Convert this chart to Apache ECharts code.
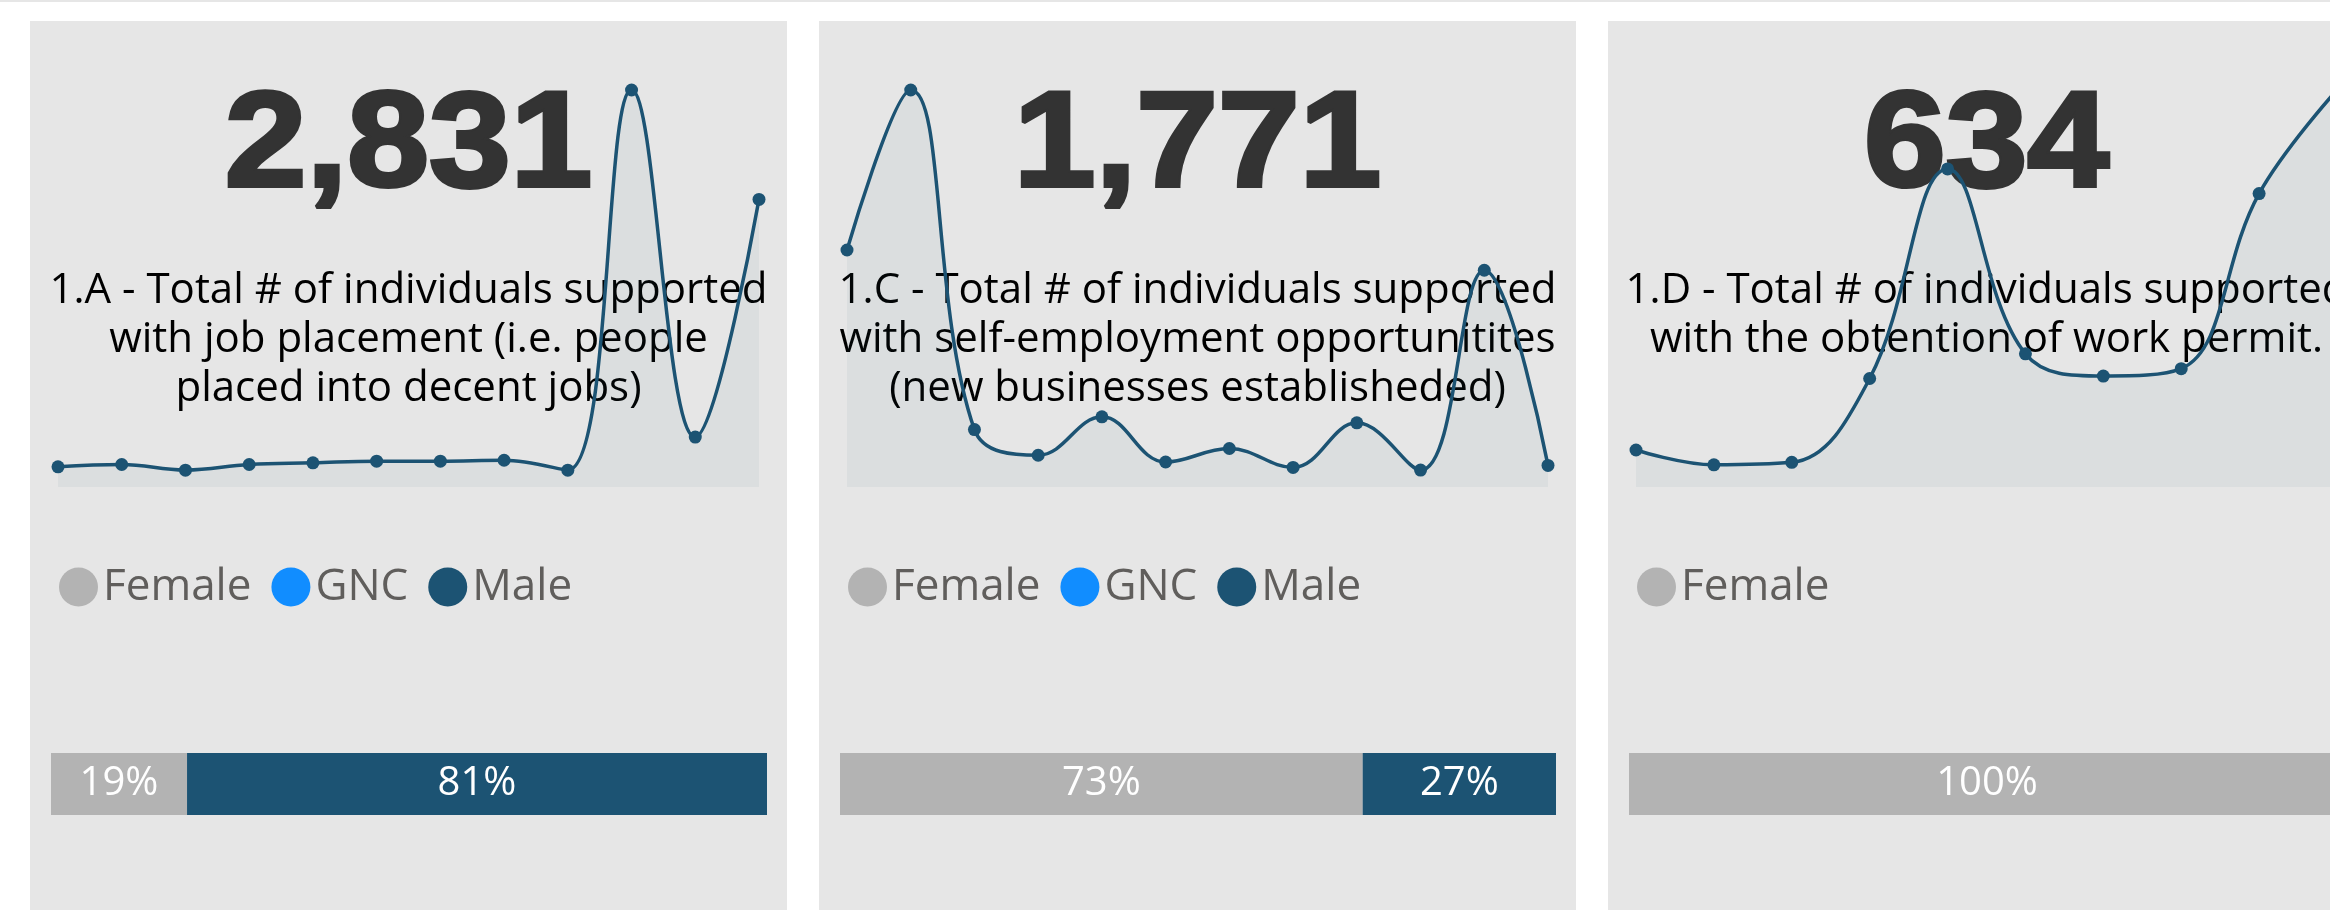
<!DOCTYPE html>
<html lang="en">
<head>
<meta charset="UTF-8">
<title>Livelihood indicators</title>
<script src="https://cdn.jsdelivr.net/npm/echarts@6/dist/echarts.min.js"></script>
<style>
    html, body { margin: 0; padding: 0; background: #fff; overflow: hidden; }
    body { width: 2330px; height: 910px; position: relative; }
    .topline { position: absolute; left: 0; top: 0; width: 2330px; height: 2px; background: #e6e6e6; }
    .card { position: absolute; top: 21px; width: 757px; height: 889px; }
</style>
</head>
<body>
<div class="topline"></div>
<div id="card1A" class="card" style="left:30px"></div>
<div id="card1C" class="card" style="left:819px"></div>
<div id="card1D" class="card" style="left:1608px"></div>

<script type="text/javascript">
    // data read from the cards
    var months = ['Jan', 'Feb', 'Mar', 'Apr', 'May', 'Jun', 'Jul', 'Aug', 'Sep', 'Oct', 'Nov', 'Dec'];
    var genders = ['Female', 'GNC', 'Male'];
    var genderColors = ['#b3b3b3', '#118dff', '#1c5373'];

    var total1A = 2831;
    var title1A = '1.A - Total # of individuals supported\nwith job placement (i.e. people\nplaced into decent jobs)';
    var trend1A = [61, 68, 51, 68, 73, 78, 78, 81, 51, 1201, 151, 870];
    var share1A = [19, 0, 81];

    var total1C = 1771;
    var title1C = '1.C - Total # of individuals supported\nwith self-employment opportunitites\n(new businesses establisheded)';
    var trend1C = [351, 588, 85, 47, 104, 37, 57, 29, 95, 25, 321, 32];
    var share1C = [73, 0, 27];

    var total1D = 634;
    var title1D = '1.D - Total # of individuals supported\nwith the obtention of work permit.';
    var trend1D = [15, 9, 10, 44, 129, 54, 45, 48, 119, 161];
    var share1D = [100];

    var textFont = '"Open Sans", "Noto Sans", sans-serif';

    function makeCard(domId, total, title, trend, shares) {
        var chart = echarts.init(document.getElementById(domId), null, {renderer: 'canvas'});
        var names = genders.slice(0, shares.length);

        var barSeries = names.map(function (name, i) {
            return {
                name: name,
                type: 'bar',
                stack: 'share',
                xAxisIndex: 1,
                yAxisIndex: 1,
                barWidth: '100%',
                data: [shares[i]],
                itemStyle: {color: genderColors[i]},
                label: {
                    show: true,
                    position: 'inside',
                    color: '#ffffff',
                    fontFamily: textFont,
                    fontSize: 40,
                    formatter: function (p) { return p.value ? p.value + '%' : ''; }
                }
            };
        });

        var option = {
            animation: false,
            backgroundColor: '#e6e6e6',
            graphic: [
                {
                    // big card value
                    type: 'text',
                    x: 378.5, y: 127,
                    scaleX: 1.08,
                    z: 1,
                    style: {
                        x: 0, y: 0,
                        text: total.toLocaleString('en-US'),
                        font: 'bold 136px "Liberation Sans", Arial, sans-serif',
                        fill: '#333333',
                        stroke: '#333333',
                        lineWidth: 4,
                        align: 'center',
                        verticalAlign: 'middle'
                    }
                },
                {
                    type: 'text',
                    x: 378.5, y: 246,
                    z: 1,
                    style: {
                        text: title,
                        font: '42px ' + textFont,
                        fill: '#000000',
                        align: 'center',
                        verticalAlign: 'top',
                        lineHeight: 49
                    }
                }
            ],
            legend: {
                data: names,
                left: 24,
                top: 539,
                icon: 'circle',
                itemWidth: 39,
                itemHeight: 39,
                itemGap: 20,
                textStyle: {color: '#605e5c', fontFamily: textFont, fontSize: 44}
            },
            grid: [
                {left: 28, right: 28, top: 69, height: 397},
                {left: 21, right: 20, top: 732, height: 62}
            ],
            xAxis: [
                {type: 'category', gridIndex: 0, data: months.slice(0, trend.length), boundaryGap: false, show: false},
                {type: 'value', gridIndex: 1, min: 0, max: 100, show: false}
            ],
            yAxis: [
                {type: 'value', gridIndex: 0, min: 0, max: 'dataMax', show: false},
                {type: 'category', gridIndex: 1, data: ['Gender'], show: false}
            ],
            series: [{
                name: 'Total',
                type: 'line',
                smooth: 0.4,
                z: 3,
                data: trend,
                symbol: 'circle',
                symbolSize: 13,
                lineStyle: {color: '#1c5373', width: 3.5},
                itemStyle: {color: '#1c5373'},
                areaStyle: {color: 'rgba(28,83,115,0.08)'}
            }].concat(barSeries)
        };
        chart.setOption(option);
        return chart;
    }

    makeCard('card1A', total1A, title1A, trend1A, share1A);
    makeCard('card1C', total1C, title1C, trend1C, share1C);
    makeCard('card1D', total1D, title1D, trend1D, share1D);
</script>
</body>
</html>
